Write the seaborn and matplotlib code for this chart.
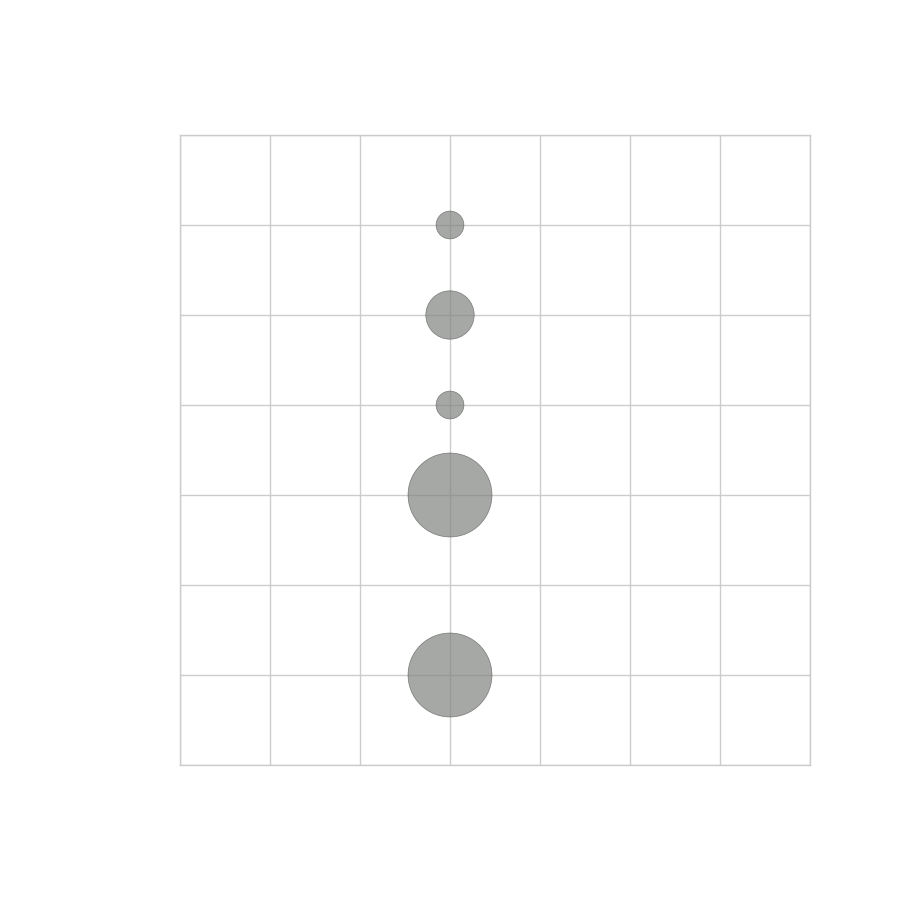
import matplotlib
matplotlib.use("Agg")
import matplotlib.pyplot as plt
import seaborn as sns
import pandas as pd

# values
x_vals = [3, 3, 3, 3, 3]
y_vals = [6, 5, 4, 3, 1]
size_vals = [1, 3, 1, 9, 9]

df = pd.DataFrame({'x': x_vals, 'y': y_vals, 'size': size_vals})

sns.set_style('white')
fig = plt.figure(figsize=(9, 9), dpi=100)
ax = fig.add_axes([0.2, 0.15, 0.7, 0.7])

sns.scatterplot(data=df, x='x', y='y', size='size', sizes=(400, 3650),
                color='#818480', alpha=0.7, edgecolor='#555555', linewidth=0.5,
                legend=False, ax=ax, zorder=3)

ax.set_xlim(0, 7)
ax.set_ylim(0, 7)
ax.set_xticks(range(8))
ax.set_yticks(range(8))
ax.set_xticklabels([])
ax.set_yticklabels([])
ax.tick_params(length=0)
ax.set_xlabel('')
ax.set_ylabel('')
ax.grid(True, color='#cccccc', linewidth=1)
ax.set_axisbelow(True)
for sp in ax.spines.values():
    sp.set_color('#cccccc')
    sp.set_linewidth(1)

fig.savefig('out.png', dpi=100)
